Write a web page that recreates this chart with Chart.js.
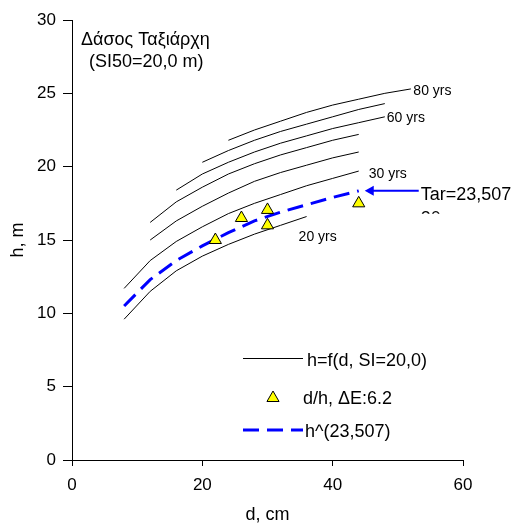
<!DOCTYPE html>
<html><head><meta charset="utf-8">
<script src="https://cdn.jsdelivr.net/npm/chart.js@4.4.1/dist/chart.umd.min.js"></script>
<style>html,body{margin:0;padding:0;background:#fff;}</style>
</head><body>
<canvas id="c" width="517" height="526"></canvas>
<script>
// ---- data ----
const d_20yrs = [8, 12, 16, 20, 24, 28, 32, 36];
const h_20yrs = [9.6, 11.5, 12.9, 13.9, 14.7, 15.4, 16.0, 16.6];
const d_30yrs = [8, 12, 16, 20, 24, 28, 32, 36, 40, 44];
const h_30yrs = [11.7, 13.6, 14.9, 15.9, 16.8, 17.5, 18.1, 18.7, 19.2, 19.7];
const d_40yrs = [12, 16, 20, 24, 28, 32, 36, 40, 44];
const h_40yrs = [15.0, 16.3, 17.3, 18.2, 19.0, 19.6, 20.1, 20.6, 21.0];
const d_50yrs = [12, 16, 20, 24, 28, 32, 36, 40, 44];
const h_50yrs = [16.2, 17.6, 18.6, 19.5, 20.2, 20.8, 21.3, 21.8, 22.2];
const d_60yrs = [16, 20, 24, 28, 32, 36, 40, 44, 48];
const h_60yrs = [18.4, 19.5, 20.3, 21.0, 21.6, 22.1, 22.6, 23.0, 23.4];
const d_70yrs = [20, 24, 28, 32, 36, 40, 44, 48];
const h_70yrs = [20.3, 21.1, 21.8, 22.4, 22.9, 23.4, 23.9, 24.3];
const d_80yrs = [24, 28, 32, 36, 40, 44, 48, 52];
const h_80yrs = [21.8, 22.5, 23.1, 23.7, 24.2, 24.6, 25.0, 25.3];
const d_fit = [8, 12, 16, 20, 24, 28, 32, 36, 40, 44];
const h_fit = [10.5, 12.3, 13.6, 14.6, 15.5, 16.3, 16.9, 17.4, 17.9, 18.35];
const d_obs = [22, 26, 30, 30, 44];
const h_obs = [15.0, 16.5, 17.05, 16.0, 17.5];
const xTicks = [0, 20, 40, 60];
const yTicks = [0, 5, 10, 15, 20, 25, 30];
const curveLabels = ['20 yrs', '30 yrs', '60 yrs', '80 yrs'];
const titleLines = ['Δάσος Ταξιάρχη', '(SI50=20,0 m)'];
const legendLabels = ['h=f(d, SI=20,0)', 'd/h, ΔE:6.2', 'h^(23,507)'];
const arrowLabel = ['Tar=23,507', '30'];
const axisTitles = ['d, cm', 'h, m'];

const FONT = '"Liberation Sans", Arial, sans-serif';
const pts = (xs, ys) => xs.map((x, i) => ({x: x, y: ys[i]}));
const curve = (xs, ys) => ({data: pts(xs, ys), showLine: true, borderColor: '#000', borderWidth: 1,
  pointRadius: 0, pointHoverRadius: 0, tension: 0, fill: false, order: 3});

const curves = [
  curve(d_20yrs, h_20yrs), curve(d_30yrs, h_30yrs), curve(d_40yrs, h_40yrs),
  curve(d_50yrs, h_50yrs), curve(d_60yrs, h_60yrs), curve(d_70yrs, h_70yrs), curve(d_80yrs, h_80yrs)
];

const overlay = {
  id: 'overlay',
  afterDraw(chart) {
    const ctx = chart.ctx, xs = chart.scales.x, ys = chart.scales.y;
    const P = (x, y) => [xs.getPixelForValue(x), ys.getPixelForValue(y)];
    ctx.save();
    ctx.fillStyle = '#000';
    ctx.textBaseline = 'alphabetic';
    ctx.textAlign = 'left';
    // title
    ctx.font = '18px ' + FONT;
    ctx.fillText(titleLines[0], 81, 45);
    ctx.fillText(titleLines[1], 89, 67);
    // curve labels near curve ends
    ctx.font = '14px ' + FONT;
    const ends = [
      [d_20yrs, h_20yrs, -8, 24], [d_30yrs, h_30yrs, 10, 6.5],
      [d_60yrs, h_60yrs, 2, 4.7], [d_80yrs, h_80yrs, 2.5, 6]
    ];
    ends.forEach((e, i) => {
      const [px, py] = P(e[0][e[0].length - 1], e[1][e[1].length - 1]);
      ctx.fillText(curveLabels[i], px + e[2], py + e[3]);
    });
    // arrow to end of fitted curve
    const [ex, ey] = P(d_fit[d_fit.length - 1], h_fit[h_fit.length - 1]);
    const tip = ex + 6, ay = ey;
    ctx.strokeStyle = '#0000ff'; ctx.fillStyle = '#0000ff'; ctx.lineWidth = 2;
    ctx.beginPath(); ctx.moveTo(tip + 7, ay); ctx.lineTo(tip + 54, ay); ctx.stroke();
    ctx.beginPath(); ctx.moveTo(tip, ay); ctx.lineTo(tip + 9, ay - 5); ctx.lineTo(tip + 9, ay + 5); ctx.closePath(); ctx.fill();
    ctx.fillStyle = '#000';
    ctx.font = '18px ' + FONT;
    ctx.fillText(arrowLabel[0], tip + 56, ay + 9);
    ctx.save();
    ctx.beginPath(); ctx.rect(0, 0, 517, ay + 23); ctx.clip();
    ctx.fillText(arrowLabel[1], tip + 56, ay + 33);
    ctx.restore();
    // legend
    ctx.strokeStyle = '#000'; ctx.lineWidth = 1;
    ctx.beginPath(); ctx.moveTo(243, 358.5); ctx.lineTo(303, 358.5); ctx.stroke();
    ctx.fillText(legendLabels[0], 307, 365.5);
    ctx.beginPath();
    const tr = 7, tx = 273, ty = 398;
    ctx.moveTo(tx, ty - tr); ctx.lineTo(tx + tr * 0.866, ty + tr * 0.5); ctx.lineTo(tx - tr * 0.866, ty + tr * 0.5); ctx.closePath();
    ctx.fillStyle = '#ffff00'; ctx.fill(); ctx.strokeStyle = '#000'; ctx.stroke();
    ctx.fillStyle = '#000';
    ctx.fillText(legendLabels[1], 303, 404);
    ctx.strokeStyle = '#0000ff'; ctx.lineWidth = 3; ctx.setLineDash([16, 8]);
    ctx.beginPath(); ctx.moveTo(243, 430); ctx.lineTo(303, 430); ctx.stroke();
    ctx.setLineDash([]);
    ctx.fillText(legendLabels[2], 305, 437);
    ctx.restore();
  }
};

new Chart(document.getElementById('c'), {
  type: 'scatter',
  data: {
    datasets: [
      {data: pts(d_obs, h_obs), pointStyle: 'triangle', pointRadius: 7, pointHoverRadius: 7,
       backgroundColor: '#ffff00', borderColor: '#000', borderWidth: 1, order: 1},
      {data: pts(d_fit, h_fit), showLine: true, borderColor: '#0000ff', borderWidth: 3, borderDash: [16, 8],
       pointRadius: 0, pointHoverRadius: 0, tension: 0, fill: false, order: 2},
      ...curves
    ]
  },
  options: {
    responsive: false, animation: false, devicePixelRatio: 1,
    layout: {padding: {top: 20, right: 54, left: 0, bottom: 0}},
    plugins: {legend: {display: false}, tooltip: {enabled: false}},
    scales: {
      x: {
        type: 'linear', min: xTicks[0], max: xTicks[xTicks.length - 1],
        afterBuildTicks: s => { s.ticks = xTicks.map(v => ({value: v})); },
        afterFit: s => { s.height = 66; },
        ticks: {color: '#000', font: {family: FONT, size: 17}, padding: 9},
        grid: {drawOnChartArea: false, drawTicks: true, tickLength: 6, color: '#000'},
        border: {color: '#000', width: 1},
        title: {display: true, text: axisTitles[0], color: '#000', font: {family: FONT, size: 18}, padding: {top: 0, bottom: 0}}
      },
      y: {
        type: 'linear', min: yTicks[0], max: yTicks[yTicks.length - 1],
        afterBuildTicks: s => { s.ticks = yTicks.map(v => ({value: v})); },
        afterFit: s => { s.width = 72; },
        ticks: {color: '#000', font: {family: FONT, size: 17}, padding: 7},
        grid: {drawOnChartArea: false, drawTicks: true, tickLength: 9, color: '#000'},
        border: {color: '#000', width: 1},
        title: {display: true, text: axisTitles[1], color: '#000', font: {family: FONT, size: 18}, padding: {top: 7, bottom: 0}}
      }
    }
  },
  plugins: [overlay]
});
</script>
</body></html>
